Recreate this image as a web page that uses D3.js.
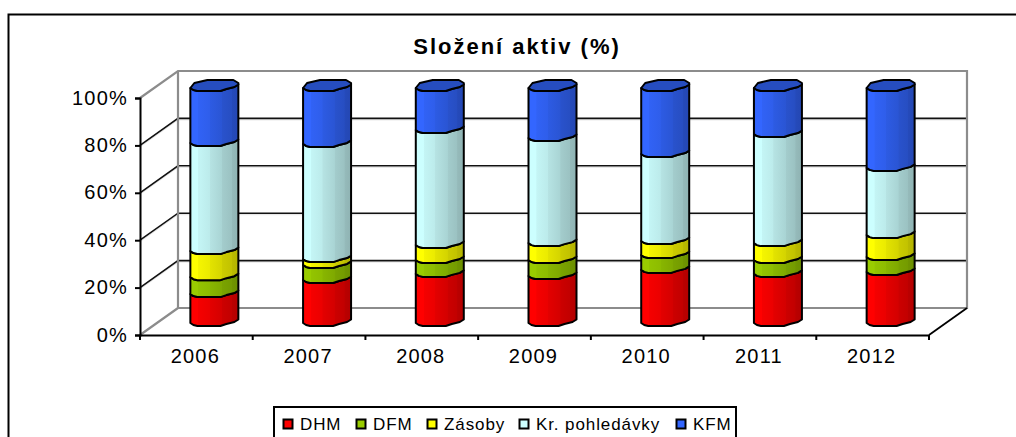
<!DOCTYPE html>
<html><head><meta charset="utf-8">
<script src="https://cdn.jsdelivr.net/npm/d3@7"></script>
<style>html,body{margin:0;padding:0;background:#fff}svg{display:block}text{font-family:"Liberation Sans",Arial,sans-serif;fill:#000}</style>
</head><body><svg id="c" width="1016" height="437"></svg>
<script>
const years = ["2006","2007","2008","2009","2010","2011","2012"];
const seriesNames = ["DHM","DFM","Zásoby","Kr. pohledávky","KFM"];
const DHM = [12.3,18.3,20.9,20.0,22.6,20.9,21.7];
const DFM = [7.2,6.4,5.9,6.8,6.3,5.9,6.4];
const Zasoby = [11.1,2.5,6.4,7.2,6.0,7.2,9.3];
const KrPohledavky = [46.0,49.0,48.9,44.7,37.0,46.4,28.6];
const KFM = [23.4,23.8,17.9,21.3,28.1,19.6,34.0];
const colors = ["#ff0000","#99cc00","#ffff00","#ccffff","#3366ff"];
const yTicks = [0,20,40,60,80,100];

const seriesValues = [DHM,DFM,Zasoby,KrPohledavky,KFM];
const svg = d3.select("#c");
const dx = 38, dy = -27;
const x = d3.scaleBand().domain(years).range([140,929]);
const y = d3.scaleLinear().domain([0,100]).range([335,98]);
const yBar = d3.scaleLinear().domain([0,100]).range([326,91]);
const barW = 48;

// frame
svg.append("path").attr("d","M8.5,437V14.5H1016").attr("fill","none").attr("stroke","#000").attr("stroke-width",2);

// title
svg.append("text").attr("x",517).attr("y",54).attr("text-anchor","middle")
  .attr("font-size",22).attr("font-weight","bold").attr("letter-spacing",2).text("Složení aktiv (%)");

// gridlines
const grid = svg.append("g");
yTicks.slice(1,-1).forEach(t=>{
  const p = `M140,${y(t)}l${dx},${dy}H${929+dx}`;
  grid.append("path").attr("d",p).attr("transform","translate(0,1.5)").attr("fill","none").attr("stroke","#e4e4e4").attr("stroke-width",1);
  grid.append("path").attr("d",p).attr("fill","none").attr("stroke","#111").attr("stroke-width",1.6);
});
// walls
svg.append("path").attr("d",`M140,${y(100)}l${dx},${dy}H${929+dx}V${y(0)+dy}H${140+dx}V${y(100)+dy}M${140+dx},${y(0)+dy}L140,${y(0)}`)
  .attr("fill","none").attr("stroke","#8c8c8c").attr("stroke-width",2.2);
// floor right edge + axes
svg.append("path").attr("d",`M929,${y(0)}l${dx},${dy}`).attr("fill","none").attr("stroke","#000").attr("stroke-width",1.8);

const yAxis = d3.axisLeft(y).tickValues(yTicks).tickSize(5).tickPadding(7).tickFormat(d=>d+"%");
const gy = svg.append("g").attr("transform","translate(140,0)").call(yAxis);
const xAxis = d3.axisBottom(x).tickSize(0).tickPadding(14);
const gx = svg.append("g").attr("transform",`translate(0,${y(0)})`).call(xAxis);
[gy,gx].forEach(g=>{
  g.selectAll("path.domain").attr("stroke","#000").attr("stroke-width",2);
  g.selectAll("line").attr("stroke","#000").attr("stroke-width",2);
  g.selectAll("text").attr("font-size",20).attr("font-family","Liberation Sans").attr("letter-spacing",1.2).attr("fill","#000");
});
gy.selectAll("text").attr("dy","0.3em");
gx.selectAll("text").attr("dx",-1);
gx.selectAll("line.bt").data(x.domain().concat("end")).enter().append("line").attr("class","bt")
  .attr("x1",d=>d==="end"?929:x(d)).attr("x2",d=>d==="end"?929:x(d)).attr("y1",0).attr("y2",5)
  .attr("stroke","#000").attr("stroke-width",2);

// gradients
const defs = svg.append("defs");
const stopsAt = [[0,1],[.16,1],[.17,.96],[.4,.92],[.41,.89],[.66,.83],[.67,.8],[.86,.76],[.87,.73],[1,.7]];
function shade(c,k){const r=d3.rgb(c);return d3.rgb(r.r*k,r.g*k,r.b*k).formatHex();}
colors.forEach((c,i)=>{
  const g = defs.append("linearGradient").attr("id","g"+i).attr("x1",0).attr("x2",1).attr("y1",0).attr("y2",0);
  stopsAt.forEach(s=>g.append("stop").attr("offset",s[0]).attr("stop-color",shade(c,s[1])));
});

// bars
const edge = [[0,-3],[3,-1],[7,0],[30,0],[36,-2],[44,-4],[48,-6.5]];
const backEdge = [[48,-8],[43,-11],[17,-11],[4,-8],[0,-3]];
const line = d3.line().curve(d3.curveLinear);
const bars = svg.append("g");
years.forEach((yr,i)=>{
  const left = x(yr)+x.bandwidth()/2+dx/2-barW/2-1;
  let cum = 0;
  seriesValues.forEach((vals,s)=>{
    const y0 = yBar(cum), y1 = yBar(cum+vals[i]);
    cum += vals[i];
    const bottom = edge.map(p=>[left+p[0],y0+p[1]]);
    const top = edge.map(p=>[left+p[0],y1+p[1]]).reverse();
    bars.append("path").attr("d",line(bottom.concat(top))+"Z").attr("fill",`url(#g${s})`)
      .attr("stroke","#000").attr("stroke-width",2).attr("stroke-linejoin","round");
  });
  const yt = yBar(cum);
  const face = edge.concat(backEdge).map(p=>[left+p[0],yt+p[1]]);
  bars.append("path").attr("d",line(face)+"Z").attr("fill",shade(colors[4],.75))
    .attr("stroke","#000").attr("stroke-width",2).attr("stroke-linejoin","round");
});

// legend
const lg = svg.append("g");
lg.append("path").attr("d","M274,437V407H736V437").attr("fill","#fff").attr("stroke","#000").attr("stroke-width",2);
const legendX = [283,356,427,519,676];
seriesNames.forEach((n,i)=>{
  lg.append("rect").attr("x",legendX[i]+0.5).attr("y",419.5).attr("width",9).attr("height",9)
    .attr("fill",colors[i]).attr("stroke","#000").attr("stroke-width",2);
  lg.append("text").attr("x",legendX[i]+17).attr("y",430).attr("font-size",17).attr("letter-spacing",0.9).text(n);
});
</script></body></html>
